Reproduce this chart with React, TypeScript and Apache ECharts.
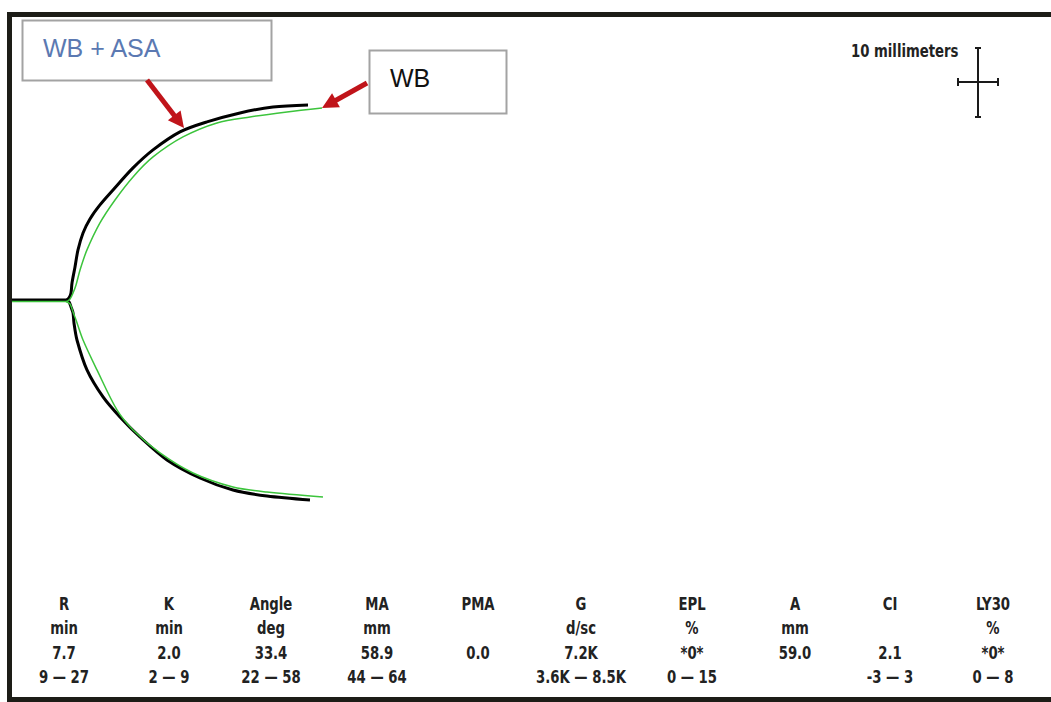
import React, { useEffect, useRef } from "react";
import * as echarts from "echarts";

// Thromboelastography tracings: time in minutes (x), clot amplitude in mm (y, split about 0)
const wbAsaUpper: [number, number][] = [
  [0, 0], [7.4, 0], [7.81, 0.29], [8.08, 1.01], [8.22, 2.46], [8.63, 4.78], [9.04, 7.25],
  [9.73, 9.71], [10.68, 11.74], [12.05, 13.77], [13.84, 15.94], [16.58, 19.13], [19.32, 21.74],
  [23.01, 24.35], [26.71, 25.8], [31.23, 27.1], [35.75, 27.97], [40.55, 28.26],
];
const wbAsaLower: [number, number][] = [
  [7.4, 0], [7.81, -0.29], [8.08, -1.01], [8.36, -1.88], [8.49, -3.33], [8.9, -5.8],
  [10.27, -10.14], [12.47, -14.06], [14.79, -16.96], [17.53, -19.86], [21.23, -23.19],
  [25.75, -25.8], [30.27, -27.54], [34.93, -28.41], [40.82, -28.99],
];
const wbUpper: [number, number][] = [
  [0, -0.22], [7.4, -0.22], [7.95, 0.14], [8.36, 1.01], [8.77, 2.17], [9.32, 4.35],
  [10.27, 7.25], [12.05, 11.16], [14.11, 14.49], [16.58, 17.83], [19.32, 20.72],
  [23.42, 23.62], [28.08, 25.65], [32.6, 26.52], [37.67, 27.25], [42.47, 27.83],
];
const wbLower: [number, number][] = [
  [7.4, -0.22], [7.95, -0.58], [8.36, -1.74], [8.77, -2.9], [9.73, -5.8], [11.64, -10.14],
  [14.38, -15.94], [16.58, -18.84], [20.27, -22.17], [24.79, -25.07], [30.27, -27.1],
  [34.93, -27.83], [42.6, -28.55],
];

// Result table
const paramNames = ["R", "K", "Angle", "MA", "PMA", "G", "EPL", "A", "CI", "LY30"];
const paramUnits = ["min", "min", "deg", "mm", "", "d/sc", "%", "mm", "", "%"];
const paramValues = ["7.7", "2.0", "33.4", "58.9", "0.0", "7.2K", "*0*", "59.0", "2.1", "*0*"];
const paramRanges = ["9 \u2014 27", "2 \u2014 9", "22 \u2014 58", "44 \u2014 64", "", "3.6K \u2014 8.5K", "0 \u2014 15", "", "-3 \u2014 3", "0 \u2014 8"];
const columnX = [64, 169, 271, 377, 478, 581, 692, 795, 890, 993];
const rowY = [604, 628, 653, 677];

const BLACK = "#000000";
const GREEN = "#3cc43c";
const RED = "#c0141a";

function arrow(x1: number, y1: number, x2: number, y2: number, color: string) {
  const dx = x2 - x1;
  const dy = y2 - y1;
  const len = Math.hypot(dx, dy);
  const ux = dx / len;
  const uy = dy / len;
  const headLen = 16;
  const headHalf = 8;
  const bx = x2 - ux * headLen;
  const by = y2 - uy * headLen;
  const px = -uy;
  const py = ux;
  return [
    {
      type: "line",
      shape: { x1, y1, x2: bx + ux * 2, y2: by + uy * 2 },
      style: { stroke: color, lineWidth: 5 },
    },
    {
      type: "polygon",
      shape: {
        points: [
          [x2, y2],
          [bx + px * headHalf, by + py * headHalf],
          [bx - px * headHalf, by - py * headHalf],
        ],
      },
      style: { fill: color },
    },
  ];
}

export default function App() {
  const ref = useRef<HTMLDivElement>(null);

  useEffect(() => {
    if (!ref.current) return;
    const chart = echarts.init(ref.current, undefined, { renderer: "svg" });

    const tableFont = {
      fontSize: 16,
      fontWeight: "bold",
      fontFamily: "DejaVu Sans Condensed",
      fill: "#222222",
      align: "center",
      verticalAlign: "middle",
    };
    const tableTexts: any[] = [];
    const rows = [paramNames, paramUnits, paramValues, paramRanges];
    rows.forEach((row, r) => {
      row.forEach((txt, c) => {
        if (!txt) return;
        tableTexts.push({
          type: "text",
          x: columnX[c],
          y: rowY[r],
          scaleX: 0.92,
          scaleY: 1.15,
          style: { ...tableFont, text: txt },
        });
      });
    });

    const lineStroke = { stroke: "#1a1a1a", lineWidth: 2 };

    const lineSeries = (name: string, data: [number, number][], color: string, width: number) => ({
      type: "line",
      name,
      data,
      showSymbol: false,
      smooth: 0.3,
      lineStyle: { color, width },
      emphasis: { disabled: true },
      z: color === GREEN ? 3 : 2,
    });

    chart.setOption({
      animation: false,
      backgroundColor: "#ffffff",
      grid: { left: 12, right: 17, top: 17, bottom: 126 },
      xAxis: { type: "value", min: 0, max: 140, show: false },
      yAxis: { type: "value", min: -40, max: 41, show: false },
      series: [
        lineSeries("WB + ASA", wbAsaUpper, BLACK, 3),
        lineSeries("WB + ASA", wbAsaLower, BLACK, 3),
        lineSeries("WB", wbUpper, GREEN, 1.5),
        lineSeries("WB", wbLower, GREEN, 1.5),
      ],
      graphic: [
        // frame
        { type: "rect", shape: { x: 7, y: 12, width: 1044, height: 5 }, style: { fill: "#1d1d17" } },
        { type: "rect", shape: { x: 7, y: 12, width: 5, height: 690 }, style: { fill: "#1d1d17" } },
        { type: "rect", shape: { x: 7, y: 697, width: 1044, height: 5 }, style: { fill: "#1d1d17" } },
        // callout boxes
        {
          type: "rect",
          shape: { x: 22.5, y: 20.5, width: 249, height: 60 },
          style: { fill: "#ffffff", stroke: "#a3a3a3", lineWidth: 2 },
        },
        {
          type: "text",
          x: 43,
          y: 48,
          style: { text: "WB + ASA", fill: "#5b79b2", fontSize: 25, fontFamily: "Liberation Sans", verticalAlign: "middle" },
        },
        {
          type: "rect",
          shape: { x: 369.5, y: 50.5, width: 137, height: 63 },
          style: { fill: "#ffffff", stroke: "#a3a3a3", lineWidth: 2 },
        },
        {
          type: "text",
          x: 390,
          y: 78,
          style: { text: "WB", fill: "#111111", fontSize: 25, fontFamily: "Liberation Sans", verticalAlign: "middle" },
        },
        ...arrow(147, 80, 184, 128, RED),
        ...arrow(367, 83, 322, 108, RED),
        // scale marker
        {
          type: "text",
          x: 851,
          y: 51,
          scaleX: 0.92,
          scaleY: 1.15,
          style: {
            text: "10 millimeters",
            fill: "#222222",
            fontSize: 16,
            fontWeight: "bold",
            fontFamily: "DejaVu Sans Condensed",
            verticalAlign: "middle",
          },
        },
        { type: "line", shape: { x1: 978, y1: 48, x2: 978, y2: 117 }, style: lineStroke },
        { type: "line", shape: { x1: 975, y1: 48, x2: 981, y2: 48 }, style: lineStroke },
        { type: "line", shape: { x1: 975, y1: 117, x2: 981, y2: 117 }, style: lineStroke },
        { type: "line", shape: { x1: 958, y1: 82, x2: 998, y2: 82 }, style: lineStroke },
        { type: "line", shape: { x1: 958, y1: 78, x2: 958, y2: 86 }, style: lineStroke },
        { type: "line", shape: { x1: 998, y1: 78, x2: 998, y2: 86 }, style: lineStroke },
        ...tableTexts,
      ],
    });

    return () => chart.dispose();
  }, []);

  return (
    <div
      ref={ref}
      style={{ position: "absolute", left: 0, top: 0, width: 1051, height: 702, background: "#fff" }}
    />
  );
}
